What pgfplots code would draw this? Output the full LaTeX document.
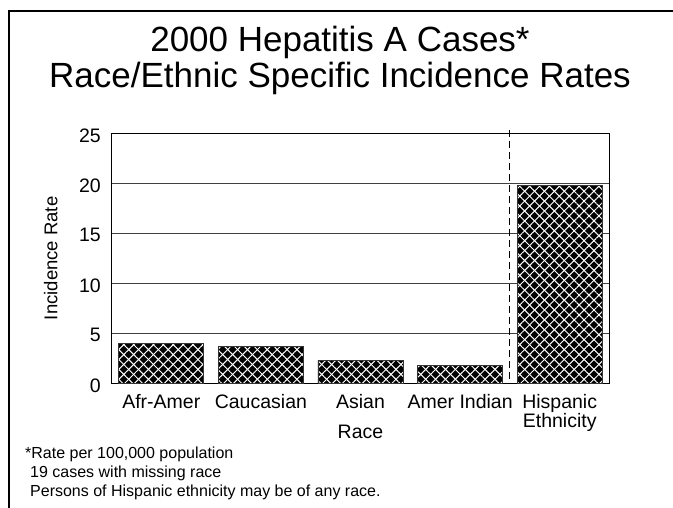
\documentclass[border=0pt]{standalone}
\usepackage{fontspec}
\setmainfont{Liberation Sans}
\usepackage{pgfplots}
\usepackage{pgfplotstable}
\pgfplotsset{compat=1.18}
\usetikzlibrary{patterns.meta}

\pgfplotstableread{
x   y
0.5 3.98
1.5 3.66
2.5 2.33
3.5 1.80
4.5 19.83
}\rates

\begin{document}
\begin{tikzpicture}
\useasboundingbox (0pt,0pt) rectangle (673pt,-508pt);
\fill[white] (0pt,0pt) rectangle (673pt,-508pt);
\draw[line width=2pt] (9pt,-508pt) -- (9pt,-11.3pt) -- (673pt,-11.3pt);

\node[anchor=base, font=\fontsize{35}{40}\selectfont] at (340pt,-52pt) {2000 Hepatitis A Cases*};
\node[anchor=base, font=\fontsize{35}{40}\selectfont] at (340pt,-88pt) {Race/Ethnic Specific Incidence Rates};

\node[anchor=base west, inner sep=0pt, font=\fontsize{16}{18}\selectfont] at (25pt,-458pt) {*Rate per 100,000 population};
\node[anchor=base west, inner sep=0pt, font=\fontsize{16}{18}\selectfont] at (30pt,-477pt) {19 cases with missing race};
\node[anchor=base west, inner sep=0pt, font=\fontsize{16}{18}\selectfont] at (30pt,-496pt) {Persons of Hispanic ethnicity may be of any race.};

\begin{axis}[
    at={(111.5pt,-383.3pt)}, anchor=south west,
    scale only axis, width=498pt, height=250pt,
    xmin=0, xmax=5, ymin=0, ymax=25,
    xtick={0.5,1.5,2.5,3.5,4.5},
    xticklabels={Afr-Amer,Caucasian,Asian,Amer Indian,{Hispanic\\Ethnicity}},
    ytick={0,5,...,25},
    major tick length=0pt,
    ymajorgrids,
    grid style={black!75, line width=0.8pt},
    axis line style={black, line width=0.8pt},
    ybar, bar width=85pt,
    clip=false,
    xticklabel style={anchor=north, inner sep=0pt, yshift=-10.5pt, align=center, font=\fontsize{19.5}{17}\selectfont},
    yticklabel style={anchor=east, inner sep=0pt, xshift=-10.5pt, yshift=-2pt, font=\fontsize{19.5}{22}\selectfont},
    /pgf/number format/assume math mode=true,
    xlabel={Race},
    xlabel style={at={(axis description cs:0.5,0)}, anchor=base, yshift=-55pt, inner sep=0pt, font=\fontsize{19.5}{22}\selectfont},
    ylabel={Incidence Rate},
    ylabel style={at={(axis description cs:-0.122,0.5)}, anchor=center, inner sep=0pt, font=\fontsize{18.5}{22}\selectfont},
]
\addplot[fill=black, draw=black!80, line width=0.6pt,
    postaction={pattern={Lines[angle=45,distance=7pt,line width=1pt]}, pattern color=white},
    postaction={pattern={Lines[angle=-45,distance=7pt,line width=1pt]}, pattern color=white}]
    table[x=x, y=y] {\rates};
\draw[black, line width=0.8pt, dash pattern=on 7pt off 4pt] (axis cs:4,25.3) -- (axis cs:4,0);
\end{axis}
\end{tikzpicture}
\end{document}
